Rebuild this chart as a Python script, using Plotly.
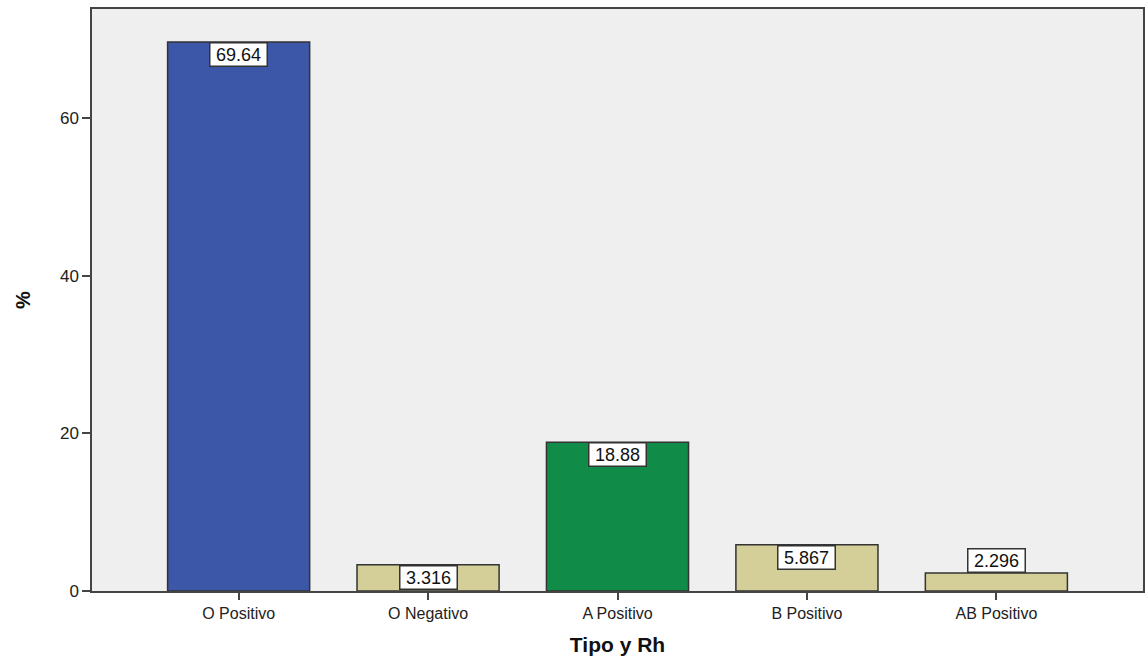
import plotly.graph_objects as go

categories = ["O Positivo", "O Negativo", "A Positivo", "B Positivo", "AB Positivo"]
values = [69.64, 3.316, 18.88, 5.867, 2.296]
labels = ["69.64", "3.316", "18.88", "5.867", "2.296"]
colors = ["#3d57a8", "#d4cf98", "#118c48", "#d4cf98", "#d4cf98"]
y_ticks = [0, 20, 40, 60]

fig = go.Figure()
fig.add_trace(go.Bar(
    x=categories, y=values, width=0.75,
    marker=dict(color=colors, line=dict(color="#333333", width=1.5)),
    hoverinfo="skip",
))

for c, v, t in zip(categories, values, labels):
    inside = v > 3
    fig.add_annotation(
        x=c, y=v, text=t, showarrow=False,
        yanchor="top" if inside else "bottom",
        width=54,
        font=dict(family="Liberation Sans, Arial", size=18, color="#111111"),
        bgcolor="white", bordercolor="#333333", borderwidth=1.5, borderpad=1,
    )

fig.update_layout(
    width=1146, height=657,
    margin=dict(l=92, r=1, t=9, b=66),
    paper_bgcolor="white", plot_bgcolor="#efefef",
    showlegend=False,
    font=dict(family="Liberation Sans, Arial", size=16, color="#222222"),
    xaxis=dict(
        range=[-0.774, 4.774], showgrid=False, zeroline=False,
        showline=True, linecolor="#444444", linewidth=1.5, mirror=True,
        ticks="outside", ticklen=7, tickcolor="#444444", tickwidth=1.5,
        tickfont=dict(size=16),
        title=dict(text="<b>Tipo y Rh</b>", font=dict(size=21, color="#111111"), standoff=16),
    ),
    yaxis=dict(
        range=[0, 73.83], tickvals=y_ticks, showgrid=False, zeroline=False,
        showline=True, linecolor="#444444", linewidth=1.5, mirror=True,
        ticks="outside", ticklen=8, tickcolor="#444444", tickwidth=1.5,
        tickfont=dict(size=17),
        title=dict(text="<b>%</b>", font=dict(size=20, color="#111111"), standoff=24),
    ),
)

fig.write_html("out.html", config={"displayModeBar": False},
               post_script="document.body.style.margin='0';document.body.style.padding='0';")
